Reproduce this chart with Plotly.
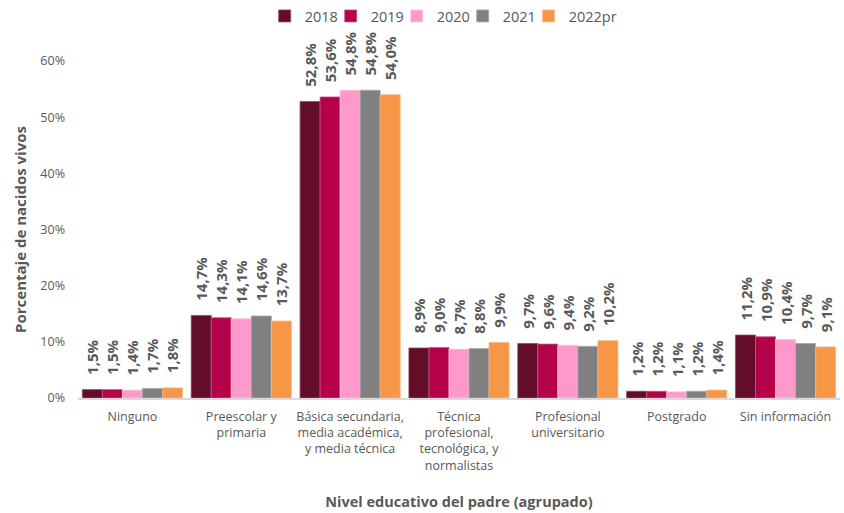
import plotly.graph_objects as go

categories = [
    "Ninguno",
    "Preescolar y<br>primaria",
    "Básica secundaria,<br>media académica,<br>y media técnica",
    "Técnica<br>profesional,<br>tecnológica, y<br>normalistas",
    "Profesional<br>universitario",
    "Postgrado",
    "Sin información",
]
years = ["2018", "2019", "2020", "2021", "2022pr"]
v2018 = [1.5, 14.7, 52.8, 8.9, 9.7, 1.2, 11.2]
v2019 = [1.5, 14.3, 53.6, 9.0, 9.6, 1.2, 10.9]
v2020 = [1.4, 14.1, 54.8, 8.7, 9.4, 1.1, 10.4]
v2021 = [1.7, 14.6, 54.8, 8.8, 9.2, 1.2, 9.7]
v2022 = [1.8, 13.7, 54.0, 9.9, 10.2, 1.4, 9.1]
series = [v2018, v2019, v2020, v2021, v2022]
colors = ["#630d2a", "#b5004a", "#ff99cc", "#808080", "#f79646"]
outlines = ["#8a4a60", "#cc5585", "#ffc2df", "#a8a8a8", "#f9b887"]

FONT = "Open Sans"
NB = "\u00a0"
fig = go.Figure()
for name, vals, c, oc in zip(years, series, colors, outlines):
    fig.add_trace(go.Bar(
        x=categories, y=[v / 100 for v in vals], name=name,
        marker=dict(color=c, line=dict(color=oc, width=0.8)),
        texttemplate=NB * 3 + "%{y:.1%}", textposition="outside", textangle=-90,
        textfont=dict(family=FONT, size=15, color="#595959", weight="bold"),
        cliponaxis=False,
    ))
# empty spacer entry so the last legend label is not clipped
fig.add_trace(go.Scatter(x=[None], y=[None], mode="markers", name=NB,
                         marker=dict(color="rgba(0,0,0,0)", size=1,
                                     line=dict(width=0, color="rgba(0,0,0,0)")),
                         hoverinfo="skip"))

fig.update_layout(
    width=844, height=513,
    margin=dict(l=78, r=4, t=61, b=115),
    plot_bgcolor="white", paper_bgcolor="white",
    barmode="group", bargap=0.08, bargroupgap=0,
    separators=",.",
    font=dict(family=FONT, color="#595959", size=12),
    uniformtext=dict(mode="show", minsize=15),
    legend=dict(orientation="h", x=0.245, xanchor="left", y=1.0, yref="container",
                yanchor="top", font=dict(size=14.5, color="#595959"),
                itemwidth=30, entrywidth=21, entrywidthmode="pixels",
                tracegroupgap=0, traceorder="normal"),
    xaxis=dict(showline=True, linecolor="#d9d9d9", linewidth=1.5, ticks="",
               automargin=False, ticklabelstandoff=6,
               tickfont=dict(size=12.5, color="#595959"),
               title=dict(text="<b>Nivel educativo del padre (agrupado)</b>",
                          font=dict(size=14.5, color="#595959"), standoff=24)),
    yaxis=dict(range=[0, 0.6], tickformat=".0%", dtick=0.1, showgrid=False,
               automargin=False, ticklabelstandoff=12,
               zeroline=False, ticks="", tickfont=dict(size=12.5, color="#595959"),
               title=dict(text="<b>Porcentaje de nacidos vivos</b>",
                          font=dict(size=15, color="#595959"), standoff=10)),
)
fig.write_html("out.html", config={"displayModeBar": False},
               post_script="document.body.style.margin='0';document.body.style.overflow='hidden';")
